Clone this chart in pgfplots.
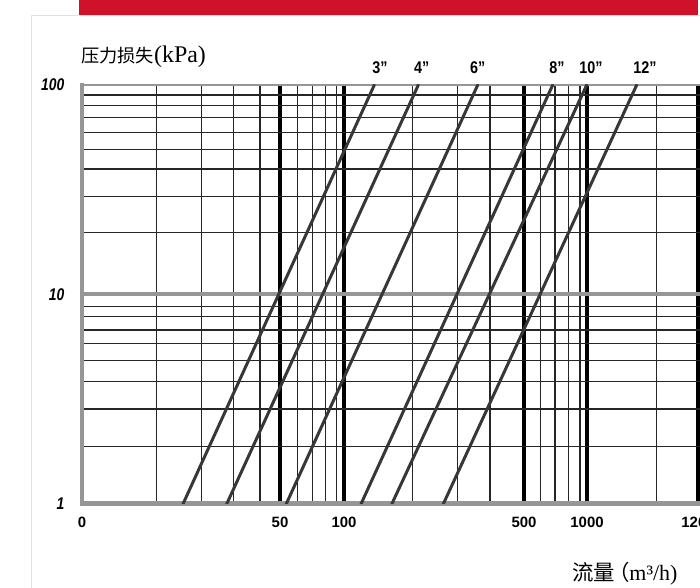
\documentclass[border=0pt]{standalone}
\usepackage{fontspec}
\usepackage{pgfplots}
\pgfplotsset{compat=1.18}
\setmainfont{Liberation Serif}
\newfontfamily\cjk{Noto Sans CJK SC}
\newfontfamily\xtickfont{Liberation Sans}
\newfontfamily\ytickfont[FakeStretch=0.82]{Liberation Sans}
\newfontfamily\labfont[FakeStretch=0.85]{Liberation Sans}
\definecolor{bannerred}{RGB}{207,17,42}
\definecolor{axgray}{RGB}{150,150,150}
\definecolor{diag}{RGB}{55,55,55}
\definecolor{cardgray}{RGB}{225,225,225}
\begin{document}
\begin{tikzpicture}
\useasboundingbox (0,0) rectangle (700bp,588bp);
\clip (0,0) rectangle (700bp,588bp);
\fill[bannerred] (79bp,573bp) rectangle (697.5bp,588bp);
\draw[cardgray, line width=1bp] (31.5bp,-5bp) -- (31.5bp,572bp) -- (710bp,572bp);
\begin{axis}[
  at={(82bp,84bp)}, anchor=south west,
  scale only axis, width=678bp, height=419bp,
  xmin=82, xmax=760, ymin=1, ymax=100, ymode=log,
  axis x line*=bottom, axis y line*=left,
  axis line style={-},
  x axis line style={axgray, line width=5bp, line cap=rect, -},
  y axis line style={axgray, line width=4bp, line cap=rect, -},
  xtick={280,344,524,587,698},
  xticklabels={50,100,500,1000,1200},
  extra x ticks={82}, extra x tick labels={0},
  extra x tick style={grid=none},
  minor xtick={156.7,201.7,233.7,260,297.3,312.3,325.7,336.7,412.7,457.7,490,540.7,555,568.3,580,656.7},
  ytick={1,100}, yticklabels={1,100},
  extra y ticks={10}, extra y tick labels={10},
  extra y tick style={major y grid style={axgray, line width=4bp}},
  minor ytick={1.88,2.84,3.84,4.83,5.85,6.77,7.83,8.75,19.7,29.5,39.7,49.1,59.5,69.8,79.6,89.6},
  grid=both,
  major x grid style={black, line width=3.5bp},
  minor x grid style={black!85, line width=1.15bp},
  major y grid style={axgray, line width=2bp},
  minor y grid style={black!85, line width=1.15bp},
  major tick length=0pt, minor tick length=0pt,
  xticklabel style={font=\xtickfont\bfseries\fontsize{15}{15}\selectfont, anchor=base, yshift=-24bp, inner sep=0pt},
  yticklabel style={font=\ytickfont\bfseries\itshape\fontsize{17}{17}\selectfont, anchor=east, xshift=-17.5bp, inner sep=0pt},
]
\addplot[diag, line width=3bp, line cap=round] coordinates {(183,1) (374.3,100)};
\addplot[diag, line width=3bp, line cap=round] coordinates {(226.7,1) (418.3,100)};
\addplot[diag, line width=3bp, line cap=round] coordinates {(286.2,1) (477.7,100)};
\addplot[diag, line width=3bp, line cap=round] coordinates {(361,1) (552.7,100)};
\addplot[diag, line width=3bp, line cap=round] coordinates {(391.8,1) (586.7,100)};
\addplot[diag, line width=3bp, line cap=round] coordinates {(443.3,1) (636.7,100)};
\end{axis}
\begin{scope}[every node/.style={font=\labfont\bfseries\fontsize{17}{17}\selectfont, inner sep=0pt}]
\node at (380bp,520bp) {3”};
\node at (421.7bp,520bp) {4”};
\node at (477.7bp,520bp) {6”};
\node at (557bp,520bp) {8”};
\node at (591bp,520bp) {10”};
\node at (645bp,520bp) {12”};
\end{scope}
\node[anchor=base west, inner sep=0pt] at (81bp,525.5bp) {{\cjk\fontsize{18.3}{18.3}\selectfont 压力损失}{\fontsize{24}{24}\selectfont(kPa)}};
\node[anchor=base west, inner sep=0pt] at (572bp,8bp) {{\cjk\fontsize{21.5}{21.5}\selectfont 流量}\kern-7bp{\cjk\fontsize{21.5}{21.5}\selectfont （}{\fontsize{22}{22}\selectfont m³/h)}};
\end{tikzpicture}
\end{document}
